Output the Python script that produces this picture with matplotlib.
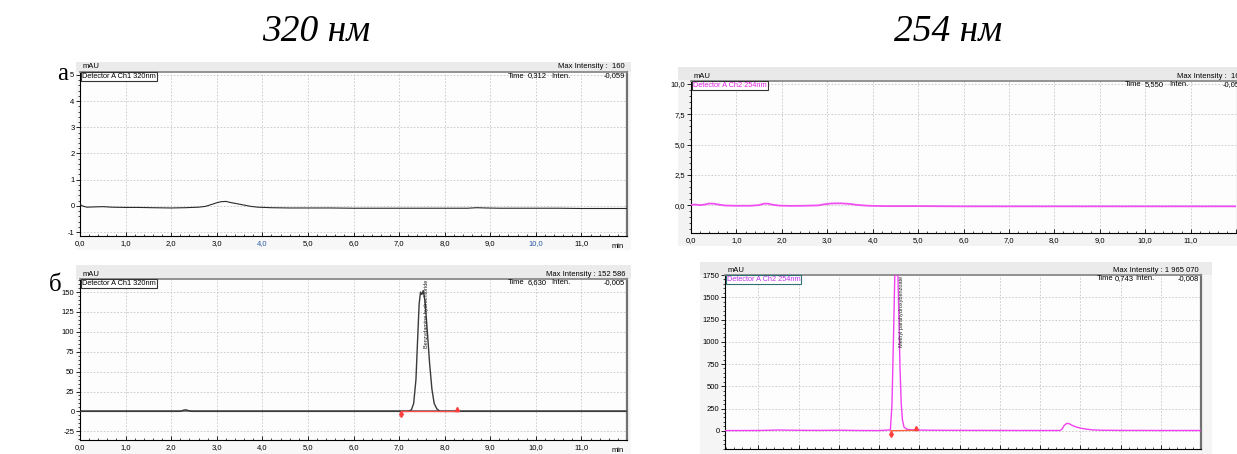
import numpy as np
import matplotlib.pyplot as plt
from matplotlib.patches import Rectangle
from matplotlib.ticker import MultipleLocator, FuncFormatter

W, H = 1237, 454

# chromatogram traces: time (min), signal (mAU)
# a) blank, 320 nm
t_a = [0.0, 0.05, 0.15, 0.3, 0.5, 0.7, 1.0, 1.3, 1.6, 2.0, 2.3, 2.6, 2.75, 2.9, 3.0, 3.1,
       3.2, 3.3, 3.45, 3.6, 3.75, 3.9, 4.2, 4.6, 5.0, 5.5, 6.0, 6.5, 7.0, 7.5, 8.0, 8.5,
       8.7, 8.9, 9.2, 9.6, 10.0, 10.5, 11.0, 11.5, 12.0]
y_a = [0.06, 0.0, -0.05, -0.04, -0.03, -0.05, -0.06, -0.06, -0.07, -0.08, -0.07, -0.05,
       -0.02, 0.06, 0.12, 0.16, 0.17, 0.13, 0.08, 0.03, -0.02, -0.05, -0.07, -0.08, -0.08,
       -0.08, -0.09, -0.09, -0.09, -0.09, -0.09, -0.09, -0.07, -0.08, -0.09, -0.09, -0.09,
       -0.09, -0.1, -0.1, -0.1]
# a) blank, 254 nm
t_b = [0.0, 0.1, 0.2, 0.3, 0.4, 0.5, 0.6, 0.75, 1.0, 1.3, 1.5, 1.6, 1.7, 1.8, 1.95, 2.2,
       2.5, 2.8, 2.95, 3.1, 3.3, 3.5, 3.65, 3.9, 4.3, 5.0, 6.0, 7.0, 8.0, 9.0, 10.0, 11.0, 12.0]
y_b = [0.02, 0.05, 0.0, 0.05, 0.13, 0.12, 0.05, -0.03, -0.05, -0.05, 0.0, 0.12, 0.12, 0.03,
       -0.04, -0.06, -0.05, -0.02, 0.08, 0.14, 0.15, 0.10, 0.02, -0.05, -0.08, -0.08, -0.1,
       -0.1, -0.1, -0.1, -0.1, -0.1, -0.1]
# b) sample, 320 nm
t_c = [0.0, 2.2, 2.27, 2.32, 2.38, 2.45, 7.2, 7.27, 7.32, 7.37, 7.41, 7.44, 7.47, 7.5, 7.53,
       7.57, 7.62, 7.67, 7.72, 7.77, 7.83, 7.9, 12.0]
y_c = [0, 0, 1.5, 2.0, 1.0, 0, 0, 2, 10, 40, 95, 135, 150, 147, 152, 138, 100, 60, 28, 10,
       3, 0, 0]
# b) sample, 254 nm
t_d = [0.17, 1.0, 1.5, 2.0, 2.5, 3.0, 3.5, 4.0, 4.28, 4.32, 4.36, 4.39, 4.42, 4.46, 4.49,
       4.52, 4.55, 4.58, 4.62, 4.7, 4.9, 5.5, 6.5, 7.5, 8.5, 8.55, 8.6, 8.66, 8.72, 8.8, 8.9,
       9.0, 9.15, 9.3, 9.5, 10.0, 11.0, 12.0]
y_d = [2, 3, 8, 5, 4, 6, 3, 2, 10, 300, 1100, 1750, 1965, 1900, 1300, 700, 300, 120, 40, 15,
       8, 5, 4, 3, 3, 20, 60, 82, 80, 60, 42, 30, 18, 10, 6, 4, 3, 3]

# integration baselines (start, end) and peak names
integ_c = [7.05, 8.28]
integ_d = [4.29, 4.92]
peak_c = 'Benzydamine hydrochloride'
peak_d = 'Methyl parahydroxybenzoate'

fig = plt.figure(figsize=(W / 100, H / 100), dpi=100)
fig.patch.set_facecolor('white')


def box(l, t, r, b):
    return [l / W, 1 - b / H, (r - l) / W, (b - t) / H]


def rect(l, t, r, b, color):
    fig.add_artist(Rectangle((l / W, 1 - b / H), (r - l) / W, (b - t) / H,
                             transform=fig.transFigure, color=color, zorder=0, lw=0))


def ftxt(x, y, s, **kw):
    kw.setdefault('fontsize', 5.5)
    kw.setdefault('family', 'Liberation Sans')
    kw.setdefault('va', 'center')
    fig.text(x / W, 1 - y / H, s, **kw)


def comma(fmt):
    return FuncFormatter(lambda v, p: (fmt % v).replace('.', ','))


def panel(pos, t, y, color, lw, xlim, ylim, ymaj, ymin, yfmt, det, det_col, det_edge,
          maxint, time_v, inten_v, min_label=True, xlabels=True, hdr_r=None):
    l, top, r, b = pos
    hdr_r = r if hdr_r is None else hdr_r
    ax = fig.add_axes(box(*pos))
    ax.set_facecolor('#fdfdfd')
    ax.plot(t, y, color=color, lw=lw, zorder=3)
    ax.set_xlim(*xlim)
    ax.set_ylim(*ylim)
    ax.xaxis.set_major_locator(MultipleLocator(1))
    ax.xaxis.set_minor_locator(MultipleLocator(0.2))
    ax.yaxis.set_major_locator(MultipleLocator(ymaj))
    ax.yaxis.set_minor_locator(MultipleLocator(ymin))
    ax.xaxis.set_major_formatter(FuncFormatter(
        lambda v, p: '' if v > 11.5 else ('%.1f' % v).replace('.', ',')))
    ax.yaxis.set_major_formatter(comma(yfmt))
    ax.grid(True, which='major', color='#c6c6c6', ls=(0, (2, 2)), lw=0.6, zorder=1)
    ax.tick_params(axis='y', which='major', direction='out', length=3, width=0.6,
                   labelsize=5.5, pad=1)
    ax.tick_params(axis='y', which='minor', direction='out', length=1.8, width=0.5)
    ax.tick_params(axis='x', which='major', direction='in', length=3, width=0.6,
                   labelsize=5.5, pad=3, labelbottom=xlabels)
    ax.tick_params(axis='x', which='minor', direction='in', length=1.8, width=0.5)
    for lab in ax.get_xticklabels() + ax.get_yticklabels():
        lab.set_family('Liberation Sans')
    ax.spines['left'].set_color('black')
    ax.spines['bottom'].set_color('black')
    ax.spines['left'].set_linewidth(0.8)
    ax.spines['bottom'].set_linewidth(0.8)
    ax.spines['top'].set_color('#8a8a8a')
    ax.spines['top'].set_linewidth(1.3)
    ax.spines['right'].set_color('#707070')
    ax.spines['right'].set_linewidth(1.6)
    ax.text(0.004, 0.993, det, transform=ax.transAxes, ha='left', va='top', fontsize=5.3,
            color=det_col, family='Liberation Sans', zorder=5,
            bbox=dict(boxstyle='square,pad=0.12', fc='white', ec=det_edge, lw=0.8))
    if min_label:
        ax.text(0.995, -0.045, 'min', transform=ax.transAxes, ha='right', va='top',
                fontsize=5.5, family='Liberation Sans')
    # header strip texts
    w = hdr_r - l
    ftxt(l + 3, top - 5, 'mAU')
    ftxt(hdr_r - 2, top - 5, maxint, ha='right')
    ftxt(l + 0.782 * w, top + 4, 'Time')
    ftxt(l + 0.818 * w, top + 4, time_v)
    ftxt(l + 0.862 * w, top + 4, 'Inten.')
    ftxt(hdr_r - 2, top + 4, inten_v, ha='right')
    return ax


# panel backgrounds
rect(76, 62, 631, 250, '#f7f7f7')
rect(76, 62, 631, 72, '#ebebeb')
rect(678, 67, 1237, 246, '#f3f3f3')
rect(678, 67, 1237, 80, '#e9e9e9')
rect(76, 265, 631, 454, '#f7f7f7')
rect(76, 265, 631, 279, '#ebebeb')
rect(700, 262, 1212, 454, '#f5f5f5')
rect(700, 262, 1212, 275, '#ebebeb')

ax_a = panel((80, 72, 627, 236), t_a, y_a, '#2a2a2a', 0.8, (0, 12), (-1.15, 5.11), 1, 0.2,
             '%.0f', 'Detector A Ch1 320nm', 'black', '#333333', 'Max Intensity :  160',
             '0,312', '-0,059')
for lab in ax_a.get_xticklabels():
    if lab.get_text() in ('4,0', '10,0'):
        lab.set_color('#2a5aa8')

ax_b = panel((691, 81, 1236, 233), t_b, y_b, '#f050f0', 1.3, (0, 12), (-2.3, 10.25), 2.5, 0.5,
             '%.1f', 'Detector A Ch2 254nm', '#e020e0', '#333333', 'Max Intensity :  160',
             '5,550', '-0,058', min_label=False, hdr_r=1246)
ax_b.spines['right'].set_visible(False)

ax_c = panel((80, 279, 627, 440), t_c, y_c, '#3a3a3a', 1.0, (0, 12), (-36, 166.5), 25, 5,
             '%.0f', 'Detector A Ch1 320nm', 'black', '#333333', 'Max Intensity : 152 586',
             '6,630', '-0,005')
ax_c.axhline(0, color='#707070', lw=1.3, zorder=2)
ax_c.plot(integ_c, [0, 0], color='#ff5050', lw=1.0, zorder=4)
ax_c.plot(integ_c[0], -3, marker='d', ms=3, color='#ff4040', zorder=5)
ax_c.plot(integ_c[1], 3, marker='^', ms=3, color='#ff4040', zorder=5)
ax_c.text(7.6, 165, peak_c, rotation=90, ha='center', va='top', fontsize=4,
          family='Liberation Sans', color='#222222', zorder=6)

ax_d = panel((725, 275, 1201, 449), t_d, y_d, '#f040f0', 1.0, (0.17, 12), (-205, 1750), 250, 50,
             '%.0f', 'Detector A Ch2 254nm', '#c030f0', '#2f7070', 'Max Intensity : 1 965 070',
             '0,743', '-0,008', min_label=False, xlabels=False)
ax_d.plot(integ_d, [0, 5], color='#ff6040', lw=1.0, zorder=4)
ax_d.plot(integ_d[0], -35, marker='d', ms=3, color='#ff4040', zorder=5)
ax_d.plot(integ_d[1], 35, marker='^', ms=3, color='#ff4040', zorder=5)
ax_d.text(4.56, 1740, peak_d, rotation=90, ha='center', va='top', fontsize=4,
          family='Liberation Sans', color='#222222', zorder=6)

# column titles and row letters
ftxt(316, 32, '320 нм', fontsize=27, family='Liberation Serif', style='italic', ha='center')
ftxt(948, 32, '254 нм', fontsize=27, family='Liberation Serif', style='italic', ha='center')
ftxt(63, 74, 'а', fontsize=18, family='Liberation Serif', ha='center')
ftxt(55, 285, 'б', fontsize=18, family='Liberation Serif', ha='center')

plt.savefig('out.png', dpi=100)
